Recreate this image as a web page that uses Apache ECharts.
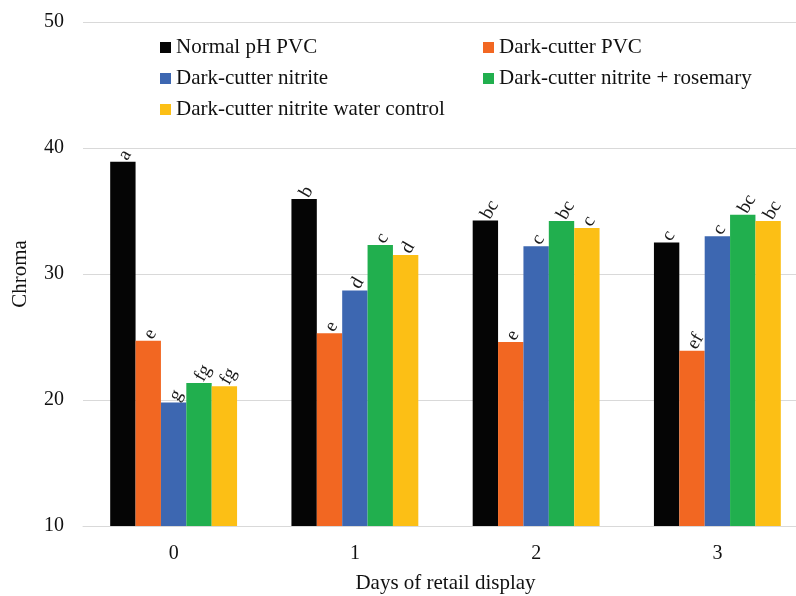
<!DOCTYPE html>
<html>
<head>
<meta charset="utf-8">
<script src="https://cdn.jsdelivr.net/npm/echarts@6/dist/echarts.min.js"></script>
<style>
  html, body { margin: 0; padding: 0; background: #fff; }
  #chart { width: 796px; height: 596px; }
</style>
</head>
<body>
<div id="chart"></div>
<script>
// Days of retail display
const days = ['0', '1', '2', '3'];

// Chroma means per treatment
const normalPVC       = [38.9, 35.95, 34.25, 32.5];
const darkPVC         = [24.7, 25.3, 24.6, 23.9];
const darkNitrite     = [19.8, 28.7, 32.2, 33.0];
const darkRosemary    = [21.35, 32.3, 34.2, 34.7];
const darkWaterCtrl   = [21.1, 31.5, 33.65, 34.2];

// Significance letters
const normalPVCLetters     = ['a', 'b', 'bc', 'c'];
const darkPVCLetters       = ['e', 'e', 'e', 'ef'];
const darkNitriteLetters   = ['g', 'd', 'c', 'c'];
const darkRosemaryLetters  = ['fg', 'c', 'bc', 'bc'];
const darkWaterCtrlLetters = ['fg', 'd', 'c', 'bc'];

const names = [
  'Normal pH PVC',
  'Dark-cutter PVC',
  'Dark-cutter nitrite',
  'Dark-cutter nitrite + rosemary',
  'Dark-cutter nitrite water control'
];
const colors = ['#050505', '#F26722', '#3D67B1', '#21AF4E', '#FCBF15'];

const FONT = '"Liberation Serif", "Times New Roman", serif';

function makeSeries(name, values, letters, color) {
  return {
    name: name,
    type: 'bar',
    data: values,
    itemStyle: { color: color },
    barGap: '0%',
    barCategoryGap: '30%',
    label: {
      show: true,
      position: 'top',
      distance: 3,
      rotate: 60,
      align: 'left',
      verticalAlign: 'middle',
      color: '#1a1a1a',
      fontFamily: FONT,
      fontSize: 19,
      formatter: p => letters[p.dataIndex]
    }
  };
}

const legendText = { fontFamily: FONT, fontSize: 21, lineHeight: 20, color: '#111' };

const chart = echarts.init(document.getElementById('chart'));
chart.setOption({
  animation: false,
  backgroundColor: '#fff',
  color: colors,
  grid: { left: 83, top: 22, width: 725, height: 504, outerBoundsMode: 'none' },
  legend: [
    {
      orient: 'vertical',
      left: 155, top: 32,
      itemWidth: 11, itemHeight: 11, itemGap: 10,
      icon: 'rect',
      textStyle: legendText,
      data: [names[0], names[2], names[4]]
    },
    {
      orient: 'vertical',
      left: 478, top: 32,
      itemWidth: 11, itemHeight: 11, itemGap: 10,
      icon: 'rect',
      textStyle: legendText,
      data: [names[1], names[3]]
    }
  ],
  xAxis: {
    type: 'category',
    data: days,
    name: 'Days of retail display',
    nameLocation: 'middle',
    nameGap: 47,
    nameTextStyle: { fontFamily: FONT, fontSize: 21, color: '#111' },
    axisLine: { lineStyle: { color: '#d9d9d9' } },
    axisTick: { show: false },
    axisLabel: { fontFamily: FONT, fontSize: 20, color: '#111', margin: 18 }
  },
  yAxis: {
    type: 'value',
    min: 10, max: 50, interval: 10,
    name: 'Chroma',
    nameLocation: 'middle',
    nameGap: 52,
    nameTextStyle: { fontFamily: FONT, fontSize: 21, color: '#111' },
    axisLine: { show: false },
    axisTick: { show: false },
    axisLabel: { fontFamily: FONT, fontSize: 20, color: '#111', margin: 19 },
    splitLine: { lineStyle: { color: '#d9d9d9' } }
  },
  series: [
    makeSeries(names[0], normalPVC, normalPVCLetters, colors[0]),
    makeSeries(names[1], darkPVC, darkPVCLetters, colors[1]),
    makeSeries(names[2], darkNitrite, darkNitriteLetters, colors[2]),
    makeSeries(names[3], darkRosemary, darkRosemaryLetters, colors[3]),
    makeSeries(names[4], darkWaterCtrl, darkWaterCtrlLetters, colors[4])
  ]
});
</script>
</body>
</html>
